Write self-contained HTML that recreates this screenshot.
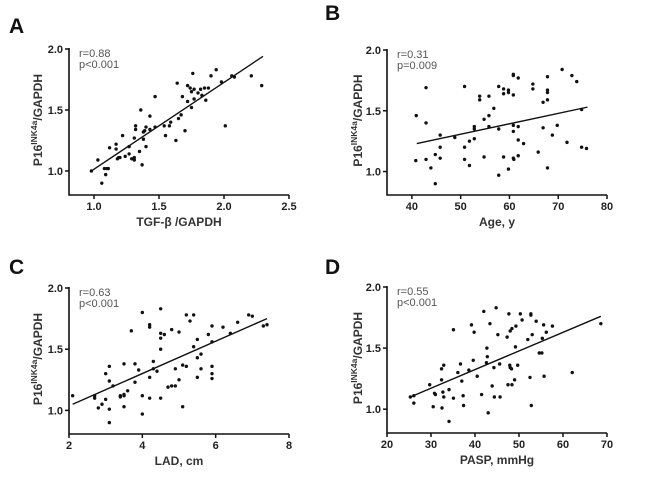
<!DOCTYPE html>
<html><head><meta charset="utf-8"><style>
html,body{margin:0;padding:0;background:#fff;}
svg{display:block;font-family:"Liberation Sans",Arial,sans-serif;}
.tick{font-size:11px;font-weight:bold;fill:#222;}
.ttl{font-size:12px;font-weight:bold;fill:#333;}
.ann{font-size:11px;fill:#555;}
.let{font-size:21px;font-weight:bold;fill:#111;}
</style></head><body>
<svg id="chart" width="650" height="488" viewBox="0 0 650 488"></svg>
<script>
const aX=[0.98,1.03,1.06,1.09,1.08,1.10,1.11,1.12,1.17,1.17,1.18,1.19,1.20,1.22,1.24,1.27,1.27,1.29,1.31,1.31,1.31,1.32,1.32,1.35,1.36,1.37,1.38,1.38,1.39,1.40,1.40,1.43,1.43,1.47,1.47,1.54,1.55,1.58,1.59,1.63,1.64,1.65,1.67,1.68,1.70,1.72,1.72,1.74,1.75,1.75,1.76,1.77,1.77,1.80,1.82,1.83,1.85,1.86,1.88,1.90,1.94,1.98,2.01,2.06,2.08,2.21,2.29];
const aY=[1.00,1.09,0.90,0.97,1.02,1.02,1.02,1.19,1.22,1.18,1.10,1.11,1.11,1.29,1.12,1.20,1.14,1.10,1.09,1.11,1.27,1.37,1.34,1.16,1.50,1.05,1.26,1.32,1.33,1.20,1.36,1.45,1.34,1.36,1.61,1.37,1.29,1.37,1.40,1.25,1.72,1.43,1.46,1.61,1.33,1.57,1.70,1.68,1.52,1.65,1.80,1.67,1.59,1.64,1.67,1.62,1.68,1.58,1.68,1.78,1.83,1.73,1.37,1.78,1.77,1.78,1.70];
const aFit=[0.98,1.00,2.30,1.94];
const bX=[40.8,40.9,42.9,42.9,42.9,43.9,44.8,44.8,45.8,45.8,45.8,48.8,50.8,50.8,50.8,51.8,51.8,52.8,52.8,52.8,53.9,53.9,54.8,54.8,55.8,55.8,55.8,56.8,57.8,57.8,57.8,58.8,58.8,58.8,59.8,59.8,59.8,60.8,60.8,60.8,60.8,60.8,60.8,60.9,61.8,61.8,61.8,61.8,62.9,64.8,64.8,65.9,66.9,66.9,67.8,67.8,67.8,67.8,67.8,68.8,69.8,70.8,71.8,72.8,73.8,74.8,74.8,75.8];
const bY=[1.09,1.46,1.69,1.40,1.10,1.03,0.90,1.14,1.30,1.20,1.11,1.28,1.70,1.20,1.10,1.05,1.25,1.37,1.35,1.27,1.62,1.59,1.43,1.12,1.62,1.46,1.37,1.52,1.70,1.35,0.97,1.68,1.64,1.12,1.67,1.65,1.02,1.80,1.79,1.63,1.38,1.33,1.11,1.10,1.77,1.37,1.26,1.13,1.23,1.72,1.68,1.16,1.57,1.36,1.78,1.67,1.65,1.59,1.03,1.30,1.38,1.84,1.24,1.79,1.74,1.51,1.20,1.19];
const bFit=[41,1.23,76,1.53];
const cX=[2.1,2.7,2.7,2.8,2.9,3.0,3.0,3.1,3.1,3.1,3.1,3.2,3.4,3.4,3.5,3.5,3.5,3.5,3.6,3.7,3.8,3.8,3.9,4.0,4.0,4.0,4.2,4.2,4.2,4.2,4.3,4.3,4.4,4.5,4.5,4.5,4.5,4.5,4.6,4.7,4.8,4.8,4.9,4.9,5.0,5.0,5.1,5.1,5.2,5.2,5.3,5.4,5.4,5.5,5.5,5.5,5.6,5.6,5.8,5.9,5.9,5.9,5.9,5.9,6.2,6.4,6.6,6.9,7.0,7.3,7.4];
const cY=[1.12,1.12,1.10,1.02,1.05,1.09,1.30,1.36,1.24,1.01,0.90,1.20,1.12,1.11,1.38,1.13,1.12,1.03,1.16,1.65,1.38,1.23,1.33,1.80,1.12,0.97,1.70,1.68,1.27,1.10,1.40,1.34,1.32,1.83,1.63,1.59,1.50,1.10,1.62,1.19,1.66,1.20,1.20,1.34,1.64,1.25,1.37,1.03,1.78,1.36,1.73,1.78,1.52,1.58,1.43,1.27,1.46,1.34,1.62,1.69,1.56,1.36,1.30,1.26,1.68,1.63,1.72,1.78,1.77,1.69,1.70];
const cFit=[2.1,1.05,7.4,1.75];
const dX=[25.3,26.1,26.1,29.7,30.5,30.8,31.0,32.4,32.4,32.5,32.7,32.9,32.9,34.1,34.1,35.1,35.1,36.1,36.7,37.0,37.3,37.4,38.6,39.2,39.6,39.8,40.5,41.5,42.0,42.6,42.7,42.8,43.0,43.4,43.9,44.3,44.4,44.8,45.2,45.6,45.7,47.3,47.5,47.7,47.9,48.0,48.0,48.3,48.4,48.4,49.0,49.2,49.3,49.7,50.3,50.7,52.0,52.5,52.7,52.7,52.8,53.0,53.9,54.6,55.2,55.3,55.6,55.7,56.2,57.6,62.1,68.6];
const dY=[1.10,1.05,1.11,1.20,1.02,1.13,1.12,1.33,1.24,1.01,1.14,1.36,1.10,0.90,1.16,1.65,1.09,1.30,1.37,1.23,1.11,1.03,1.32,1.69,1.40,1.63,1.27,1.12,1.80,1.38,1.50,1.43,0.97,1.70,1.19,1.34,1.10,1.83,1.61,1.37,1.10,1.59,1.20,1.78,1.36,1.64,1.34,1.33,1.66,1.20,1.24,1.51,1.68,1.36,1.78,1.73,1.57,1.26,1.78,1.77,1.03,1.61,1.72,1.46,1.46,1.58,1.69,1.27,1.63,1.68,1.30,1.70];
const dFit=[25.3,1.10,68.6,1.76];
const yTicks=[1.0,1.5,2.0];
const yTickLabels=["1.0","1.5","2.0"];
const aXTicks=[1.0,1.5,2.0,2.5], aXLabels=["1.0","1.5","2.0","2.5"];
const bXTicks=[40,50,60,70,80], bXLabels=["40","50","60","70","80"];
const cXTicks=[2,4,6,8], cXLabels=["2","4","6","8"];
const dXTicks=[20,30,40,50,60,70], dXLabels=["20","30","40","50","60","70"];

const NS="http://www.w3.org/2000/svg";
const svg=document.getElementById('chart');
function mk(tag,attrs,parent,text){const e=document.createElementNS(NS,tag);for(const k in attrs)e.setAttribute(k,attrs[k]);if(text!==undefined)e.textContent=text;(parent||svg).appendChild(e);return e;}

function panel(id,letter,L,R,T,B,xmin,xmax,ymin,ymax,xs,ys,fit,xt,xl,xtitle,r,p,letX,letY,titleX){
  const g=mk('g',{});
  
  
  const sx=v=>L+(v-xmin)/(xmax-xmin)*(R-L);
  const sy=v=>B-(v-ymin)/(ymax-ymin)*(B-T);
  const lt=mk('text',{x:letX,y:letY,class:'let'},g,letter);
  
  
  const ax=mk('path',{d:`M${L},${sy(2.0)-1} V${B} H${R}`,fill:'none',stroke:'#111','stroke-width':1.6},g);
  
  
  yTicks.forEach((v,i)=>{
    const y=sy(v);
    mk('line',{x1:L-4,x2:L,y1:y,y2:y,stroke:'#111','stroke-width':1.5},g);
    const t=mk('text',{x:L-6,y:y+4,class:'tick','text-anchor':'end'},g,yTickLabels[i]);
    
    
  });
  xt.forEach((v,i)=>{
    const x=sx(v);
    mk('line',{x1:x,x2:x,y1:B,y2:B+4,stroke:'#111','stroke-width':1.5},g);
    const t=mk('text',{x:x,y:B+15,class:'tick','text-anchor':'middle'},g,xl[i]);
    
    
  });
  const xt2=mk('text',{x:(L+R)/2,y:B+31,class:'ttl','text-anchor':'middle'},g,xtitle);
  
  
  const cy=(sy(2.0)+B)/2-2;
  const yt=mk('text',{x:0,y:0,class:'ttl','text-anchor':'middle',transform:`translate(${titleX},${cy}) rotate(-90)`},g);
  
  
  mk('tspan',{},yt,'P16');
  mk('tspan',{dy:-5,'font-size':'8.5'},yt,'INK4a');
  mk('tspan',{dy:5},yt,'/GAPDH');
  const an=mk('text',{x:L+10,y:sy(2.0)+8,class:'ann'},g);
  
  
  mk('tspan',{x:L+10},an,r);
  mk('tspan',{x:L+10,dy:11},an,p);
  xs.forEach((v,i)=>{
    const c=mk('circle',{cx:sx(v),cy:sy(ys[i]),r:1.7,fill:'#111'},g);
    
    
  });
  const fl=mk('line',{x1:sx(fit[0]),y1:sy(fit[1]),x2:sx(fit[2]),y2:sy(fit[3]),stroke:'#111','stroke-width':1.4},g);
  
  
}
panel('a','A',69,289,49,195,0.8077,2.5,0.803,2.0,aX,aY,aFit,aXTicks,aXLabels,'TGF-β /GAPDH','r=0.88','p<0.001',9,33,42);
panel('b','B',387,607,50,195,34.9,80,0.807,2.0,bX,bY,bFit,bXTicks,bXLabels,'Age, y','r=0.31','p=0.009',325,20,362);
panel('c','C',69,289,288,434,2,8,0.807,2.0,cX,cY,cFit,cXTicks,cXLabels,'LAD, cm','r=0.63','p<0.001',9,274,42);
panel('d','D',387,607,287,433,20,70,0.805,2.0,dX,dY,dFit,dXTicks,dXLabels,'PASP, mmHg','r=0.55','p<0.001',325,274,362);
</script>
</body></html>
